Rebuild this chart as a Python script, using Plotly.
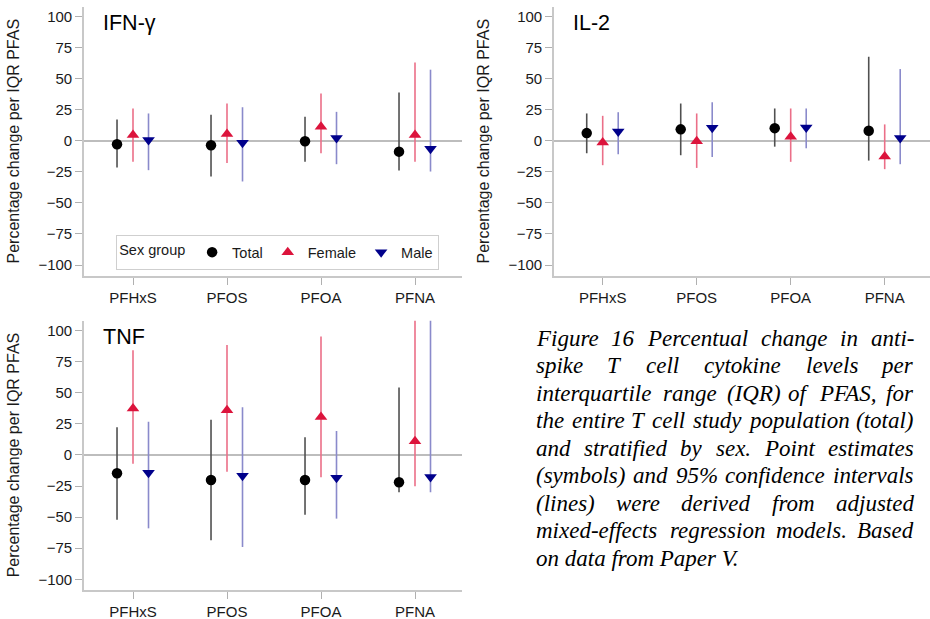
import plotly.graph_objects as go

# ---------------- data ----------------
pfas = ["PFHxS", "PFOS", "PFOA", "PFNA"]
groups = ["Total", "Female", "Male"]
panel_titles = ["IFN-γ", "IL-2", "TNF"]
y_ticks = [-100, -75, -50, -25, 0, 25, 50, 75, 100]

# IFN-gamma
ifn_total_est = [-2.9, -3.7, -0.5, -8.8]
ifn_total_lo = [-21.6, -28.8, -17.0, -24.0]
ifn_total_hi = [17.0, 20.8, 19.2, 38.7]
ifn_female_est = [4.5, 5.4, 11.2, 4.6]
ifn_female_lo = [-17.0, -17.9, -10.1, -17.0]
ifn_female_hi = [25.9, 29.9, 37.9, 62.9]
ifn_male_est = [0.5, -1.6, 2.1, -6.4]
ifn_male_lo = [-23.7, -32.8, -18.9, -24.8]
ifn_male_hi = [21.9, 26.9, 23.2, 57.1]

# IL-2
il2_total_est = [6.1, 9.1, 10.1, 8.0]
il2_total_lo = [-10.1, -11.7, -4.8, -16.0]
il2_total_hi = [21.9, 29.9, 25.9, 67.5]
il2_female_est = [-1.5, -0.5, 3.2, -12.8]
il2_female_lo = [-19.7, -21.9, -17.0, -22.9]
il2_female_hi = [20.0, 21.9, 25.9, 13.1]
il2_male_est = [7.4, 10.4, 10.6, 2.1]
il2_male_lo = [-10.9, -13.1, -6.1, -18.9]
il2_male_hi = [22.9, 30.9, 25.9, 57.6]

# TNF
tnf_total_est = [-14.7, -20.1, -20.1, -22.0]
tnf_total_lo = [-52.0, -68.6, -48.0, -30.0]
tnf_total_hi = [22.3, 28.4, 14.2, 54.2]
tnf_female_est = [37.3, 36.0, 30.6, 11.0]
tnf_female_lo = [-7.0, -13.4, -18.0, -25.2]
tnf_female_hi = [84.2, 88.5, 95.2, 130.0]
tnf_male_est = [-14.2, -16.7, -18.3, -17.7]
tnf_male_lo = [-59.0, -74.0, -51.2, -30.0]
tnf_male_hi = [26.8, 38.3, 19.3, 130.0]

caption_lines = [
    "Figure 16 Percentual change in anti-",
    "spike T cell cytokine levels per",
    "interquartile range (IQR) of PFAS, for",
    "the entire T cell study population (total)",
    "and stratified by sex. Point estimates",
    "(symbols) and 95% confidence intervals",
    "(lines) were derived from adjusted",
    "mixed-effects regression models. Based",
    "on data from Paper V.",
]

# ---------------- styling ----------------
W, H = 930, 619
SANS = "Liberation Sans, Arial, sans-serif"
SERIF = "Liberation Serif, Times New Roman, serif"
offsets = {"Total": -0.17, "Female": 0.0, "Male": 0.165}
marker_style = {
    "Total": dict(symbol="circle", size=10.5, color="#000000"),
    "Female": dict(symbol="triangle-up", size=11, color="#dc143c"),
    "Male": dict(symbol="triangle-down", size=11, color="#00008b"),
}
ci_color = {"Total": "#505050", "Female": "#eb6f88", "Male": "#8a8acb"}

panels = [
    {
        "Total": (ifn_total_est, ifn_total_lo, ifn_total_hi),
        "Female": (ifn_female_est, ifn_female_lo, ifn_female_hi),
        "Male": (ifn_male_est, ifn_male_lo, ifn_male_hi),
    },
    {
        "Total": (il2_total_est, il2_total_lo, il2_total_hi),
        "Female": (il2_female_est, il2_female_lo, il2_female_hi),
        "Male": (il2_male_est, il2_male_lo, il2_male_hi),
    },
    {
        "Total": (tnf_total_est, tnf_total_lo, tnf_total_hi),
        "Female": (tnf_female_est, tnf_female_lo, tnf_female_hi),
        "Male": (tnf_male_est, tnf_male_lo, tnf_male_hi),
    },
]

# pixel layout of the three panels: (left, right, top, bottom)
boxes = [(84, 462, 7, 276), (554, 930, 7, 276), (84, 462, 320.7, 590)]
first_cat_px = [133, 602.7, 133]
cat_step_px = 94.0
y_ranges = [[-108.8, 107.5], [-108.8, 107.5], [-108.6, 108.0]]

fig = go.Figure()

for p, data in enumerate(panels):
    sfx = "" if p == 0 else str(p + 1)
    for g in groups:
        est, lo, hi = data[g]
        xs = [i + 1 + offsets[g] for i in range(len(pfas))]
        fig.add_trace(go.Scatter(
            x=xs, y=est, mode="markers", name=g,
            legendgroup=g, showlegend=(p == 0),
            marker=dict(**marker_style[g], line=dict(width=0)),
            error_y=dict(type="data", symmetric=False,
                         array=[h - e for h, e in zip(hi, est)],
                         arrayminus=[e - l for e, l in zip(est, lo)],
                         width=0, thickness=1.6, color=ci_color[g]),
            xaxis="x" + sfx, yaxis="y" + sfx,
            hovertemplate=g + ": %{y}<extra></extra>",
        ))

layout_axes = {}
for p, (l, r, t, b) in enumerate(boxes):
    sfx = "" if p == 0 else str(p + 1)
    x0 = 1 - (first_cat_px[p] - l) / cat_step_px
    x1 = x0 + (r - l) / cat_step_px
    layout_axes["xaxis" + sfx] = dict(
        domain=[l / W, r / W], range=[x0, x1], anchor="y" + sfx,
        tickmode="array", tickvals=[1, 2, 3, 4], ticktext=pfas,
        ticks="outside", ticklen=7, tickcolor="#b0b0b0", tickwidth=1.2,
        showline=True, linecolor="#c8c8c8", linewidth=1.6,
        showgrid=False, zeroline=False,
        tickfont=dict(family=SANS, size=15, color="#1a1a1a"),
    )
    layout_axes["yaxis" + sfx] = dict(
        domain=[1 - b / H, 1 - t / H], range=y_ranges[p], anchor="x" + sfx,
        tickmode="array", tickvals=y_ticks,
        ticks="outside", ticklen=7, tickcolor="#b0b0b0", tickwidth=1.2,
        showline=True, linecolor="#c8c8c8", linewidth=1.6,
        showgrid=False, zeroline=True, zerolinecolor="#bdbdbd", zerolinewidth=1.6,
        tickfont=dict(family=SANS, size=15, color="#1a1a1a"),
    )

annotations = []
for p, (l, r, t, b) in enumerate(boxes):
    # panel titles
    annotations.append(dict(
        text=panel_titles[p], x=(l + 17) / W, y=1 - (t + 16) / H,
        xref="paper", yref="paper", xanchor="left", yanchor="middle",
        showarrow=False, font=dict(family=SANS, size=21.5, color="#000000"),
    ))
    # y-axis titles
    annotations.append(dict(
        text="Percentage change per IQR PFAS", textangle=-90,
        x=(l - 71) / W, y=1 - ((t + b) / 2) / H,
        xref="paper", yref="paper", xanchor="center", yanchor="middle",
        showarrow=False, font=dict(family=SANS, size=16, color="#1a1a1a"),
    ))

# caption, justified word by word (Times italic advance widths, 1/1000 em)
tw = {" ": 250, ",": 250, ".": 250, "-": 333, "(": 333, ")": 333, "%": 833,
      "a": 500, "b": 500, "c": 444, "d": 500, "e": 444, "f": 278, "g": 500,
      "h": 500, "i": 278, "j": 278, "k": 444, "l": 278, "m": 722, "n": 500,
      "o": 500, "p": 500, "q": 500, "r": 389, "s": 389, "t": 278, "u": 500,
      "v": 444, "w": 667, "x": 444, "y": 444, "z": 389,
      "A": 611, "B": 611, "F": 611, "I": 333, "P": 611, "Q": 722, "R": 611,
      "S": 500, "T": 556, "V": 611}
cap_size = 23
cap_scale = 1.01  # rendering correction of the advance widths
cap_left, cap_right = 536, 914
cap_y0, cap_dy = 338, 27.5
cap_font = dict(family=SERIF, size=cap_size, style="italic", color="#000000")


def word_w(wd):
    return sum(tw.get(ch, 500) for ch in wd) * cap_size * cap_scale / 1000.0


for k, line in enumerate(caption_lines):
    y = 1 - (cap_y0 + k * cap_dy) / H
    words = line.split(" ")
    if k == len(caption_lines) - 1:
        annotations.append(dict(
            text=line, x=cap_left / W, y=y, xref="paper", yref="paper",
            xanchor="left", yanchor="middle", showarrow=False, borderpad=0,
            borderwidth=0, font=cap_font,
        ))
        continue
    widths = [word_w(wd) for wd in words]
    n = len(words)
    gap = (cap_right - cap_left - sum(widths)) / (n - 1)
    xpos = cap_left
    for i, wd in enumerate(words):
        if i == 0:
            ax, anchor = cap_left, "left"
        elif i == n - 1:
            ax, anchor = cap_right, "right"
        else:
            ax, anchor = xpos + widths[i] / 2, "center"
        annotations.append(dict(
            text=wd, x=ax / W, y=y, xref="paper", yref="paper",
            xanchor=anchor, yanchor="middle", showarrow=False, borderpad=0,
            borderwidth=0, font=cap_font,
        ))
        xpos += widths[i] + gap

fig.update_layout(
    width=W, height=H,
    margin=dict(l=0, r=0, t=0, b=0),
    paper_bgcolor="white", plot_bgcolor="white",
    font=dict(family=SANS, size=15, color="#1a1a1a"),
    showlegend=True,
    legend=dict(
        orientation="h", x=116 / W, y=1 - 235 / H, xanchor="left", yanchor="top",
        xref="paper", yref="paper",
        bgcolor="white", bordercolor="#cfcfcf", borderwidth=1.2,
        font=dict(family=SANS, size=14.5, color="#1a1a1a"),
        title=dict(text="Sex group", font=dict(family=SANS, size=14.5, color="#1a1a1a")),
        itemwidth=30, tracegroupgap=0,
    ),
    annotations=annotations,
    **layout_axes,
)

fig.write_html("out.html")
